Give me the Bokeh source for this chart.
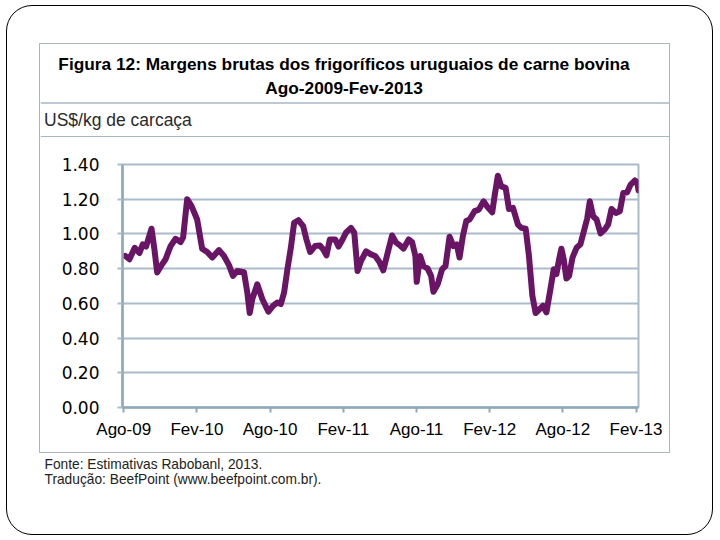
from bokeh.plotting import figure
from bokeh.layouts import column
from bokeh.models import FixedTicker, Range1d
from bokeh.core.properties import value
from bokeh.embed import file_html
from bokeh.resources import INLINE

# ---- data (months since Aug-2009, US$/kg) ----
months = [0.14, 0.47, 0.90, 1.29, 1.56, 1.83, 2.28, 2.52, 2.74, 3.10, 3.43, 3.84, 4.25, 4.66, 4.87,
          5.20, 5.56, 6.02, 6.43, 6.84, 7.26, 7.81, 8.22, 8.63, 8.96, 9.31, 9.86, 10.13, 10.33,
          10.54, 10.95, 11.36, 11.86, 12.24, 12.60, 12.88, 13.15, 13.42, 13.70, 13.97, 14.32,
          14.71, 14.98, 15.28, 15.69, 16.08, 16.35, 16.62, 16.90, 17.34, 17.61, 17.94, 18.22,
          18.63, 18.90, 19.17, 19.45, 19.86, 20.27, 20.62, 20.95, 21.28, 21.64, 22.00, 22.33,
          22.65, 22.93, 23.36, 23.64, 23.91, 24.02, 24.30, 24.57, 24.92, 25.20, 25.39, 25.74,
          26.10, 26.38, 26.71, 27.03, 27.30, 27.53, 27.80, 28.08, 28.35, 28.76, 29.11, 29.50,
          29.77, 30.21, 30.40, 30.67, 30.95, 31.31, 31.58, 31.91, 32.32, 32.60, 32.95, 33.22,
          33.50, 33.77, 34.10, 34.37, 34.65, 34.98, 35.25, 35.47, 35.69, 35.88, 36.07, 36.29,
          36.51, 36.79, 37.12, 37.44, 37.72, 37.99, 38.21, 38.48, 38.76, 39.09, 39.44, 39.71,
          39.99, 40.35, 40.67, 40.95, 41.27, 41.55, 41.91, 42.10, 42.20]
margins = [0.873, 0.854, 0.920, 0.890, 0.940, 0.927, 1.030, 0.910, 0.778, 0.820, 0.854, 0.930, 0.972, 0.953, 0.980,
           1.200, 1.160, 1.083, 0.915, 0.896, 0.864, 0.907, 0.873, 0.820, 0.758, 0.787, 0.780, 0.663, 0.544,
           0.625, 0.710, 0.625, 0.552, 0.586, 0.605, 0.596, 0.663, 0.797, 0.920, 1.064, 1.079,
           1.045, 0.968, 0.896, 0.930, 0.934, 0.911, 0.877, 0.968, 0.968, 0.927, 0.968, 1.007,
           1.035, 1.007, 0.787, 0.844, 0.900, 0.882, 0.873, 0.840, 0.790, 0.892, 0.991, 0.950,
           0.934, 0.915, 0.968, 0.953, 0.873, 0.724, 0.873, 0.815, 0.800, 0.758, 0.667, 0.710,
           0.797, 0.815, 0.984, 0.930, 0.940, 0.864, 0.987, 1.074, 1.083, 1.131, 1.140, 1.188,
           1.160, 1.125, 1.217, 1.335, 1.274, 1.265, 1.144, 1.150, 1.054, 1.035, 1.030, 0.873,
           0.644, 0.544, 0.567, 0.586, 0.548, 0.682, 0.797, 0.768, 0.854, 0.915, 0.854, 0.743,
           0.758, 0.864, 0.920, 0.940, 1.016, 1.087, 1.188, 1.102, 1.083, 1.003, 1.026, 1.054,
           1.144, 1.121, 1.131, 1.236, 1.240, 1.284, 1.308, 1.297, 1.251]

tick_months = [0, 6, 12, 18, 24, 30, 36, 42]
tick_labels = ["Ago-09", "Fev-10", "Ago-10", "Fev-11", "Ago-11", "Fev-12", "Ago-12", "Fev-13"]
y_ticks = [0.0, 0.2, 0.4, 0.6, 0.8, 1.0, 1.2, 1.4]

title_text = "Figura 12: Margens brutas dos frigoríficos uruguaios de carne bovina"
subtitle_text = "Ago-2009-Fev-2013"
unit_text = "US$/kg de carcaça"
source_lines = ["Fonte: Estimativas Rabobanl, 2013.",
                "Tradução: BeefPoint (www.beefpoint.com.br)."]

BOX = "#A6B8C4"
GRID = "#A9BCC9"
AXIS = "#8FA7B8"
FONT = "Liberation Sans"

IW = 629           # inner content width
HH, CH, FH = 93, 315, 81


def blank(w, h):
    f = figure(width=w, height=h, output_backend="svg", toolbar_location=None,
               x_axis_type=None, y_axis_type=None,
               x_range=Range1d(0, w), y_range=Range1d(h, 0),
               min_border=0, min_border_left=0, min_border_right=0,
               min_border_top=0, min_border_bottom=0)
    f.outline_line_color = None
    f.background_fill_color = "white"
    f.border_fill_color = "white"
    return f


# ---- header (title, subtitle, unit) ----
head = blank(IW, HH)
head.text(x=[303.5, 303.5], y=[19.5, 43.5], text=[title_text, subtitle_text],
          text_font=value(FONT), text_font_style="bold", text_font_size="17.3px",
          text_align="center", text_baseline="middle", text_color="black")
head.text(x=[3.5], y=[75.5], text=[unit_text], text_font=value(FONT), text_font_size="17.5px",
          text_align="left", text_baseline="middle", text_color="#2a2a2a")
head.segment(x0=[0, 0], y0=[58.5, 92.2], x1=[IW, IW], y1=[58.5, 92.2], line_color=BOX, line_width=1.6)

# ---- chart ----
p = figure(width=IW, height=CH, output_backend="svg", toolbar_location=None,
           x_range=Range1d(-0.1, 42.2), y_range=Range1d(0, 1.4),
           min_border_left=82, min_border_right=31, min_border_top=27, min_border_bottom=45)
p.background_fill_color = "white"
p.border_fill_color = "white"
p.outline_line_color = GRID
p.outline_line_width = 2

p.xgrid.visible = False
p.ygrid.ticker = FixedTicker(ticks=y_ticks)
p.ygrid.grid_line_color = GRID
p.ygrid.grid_line_width = 2

p.yaxis.ticker = FixedTicker(ticks=y_ticks)
p.yaxis.major_label_overrides = {t: f"{t:.2f}" for t in y_ticks}
p.yaxis.major_label_text_font = "DejaVu Sans"
p.yaxis.major_label_text_font_size = "17px"
p.yaxis.major_label_text_color = "black"
p.yaxis.axis_line_color = AXIS
p.yaxis.axis_line_width = 2.5
p.yaxis.major_tick_line_color = GRID
p.yaxis.major_tick_line_width = 2
p.yaxis.major_tick_out = 5
p.yaxis.major_tick_in = 0
p.yaxis.minor_tick_line_color = None
p.yaxis.major_label_standoff = 18

p.xaxis.ticker = FixedTicker(ticks=tick_months)
p.xaxis.major_label_overrides = dict(zip(tick_months, tick_labels))
p.xaxis.major_label_text_font = FONT
p.xaxis.major_label_text_font_size = "17px"
p.xaxis.major_label_text_color = "black"
p.xaxis.axis_line_color = AXIS
p.xaxis.axis_line_width = 2.5
p.xaxis.major_tick_line_color = AXIS
p.xaxis.major_tick_line_width = 2
p.xaxis.major_tick_out = 5
p.xaxis.major_tick_in = 0
p.xaxis.minor_tick_line_color = None
p.xaxis.major_label_standoff = 7

p.line(months, margins, line_width=6, line_color="#6A1466", line_join="round", line_cap="round")

# ---- footer (sources) ----
foot = blank(IW + 3, FH)
foot.text(x=[5, 5], y=[11, 26], text=source_lines, text_font=value(FONT), text_font_size="13.75px",
          text_align="left", text_baseline="middle", text_color="#222222")

inner = column(column(head), column(p), spacing=0, styles={"border": f"1.5px solid {BOX}"})
inner.margin = (37, 41, 0, 32)
foot.margin = (0, 41, 0, 32)
outer = column(inner, foot, spacing=0,
               styles={"border": "1.5px solid black", "border-radius": "26px"})
outer.margin = (5, 0, 0, 6)

open("out.html", "w").write(file_html(outer, INLINE))
